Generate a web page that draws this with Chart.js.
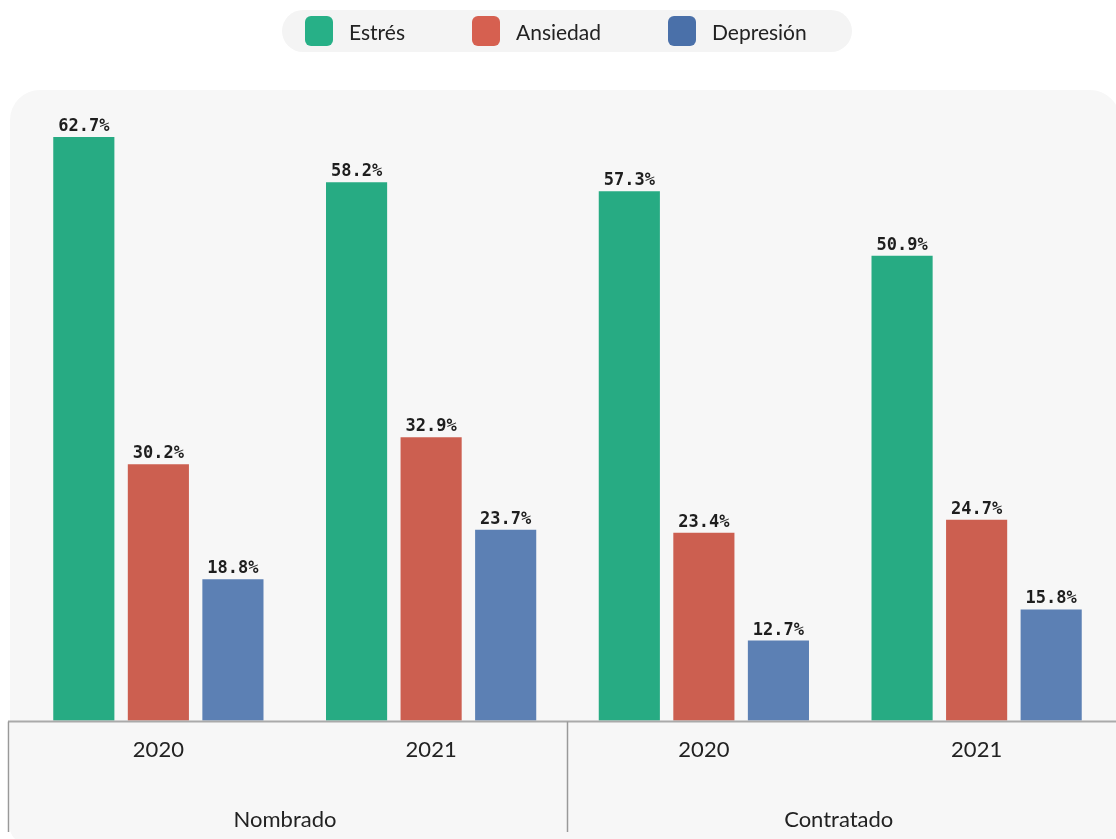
<!DOCTYPE html>
<html>
<head>
<meta charset="utf-8">
<script src="https://cdn.jsdelivr.net/npm/chart.js@4/dist/chart.umd.min.js"></script>
<style>
  html, body { margin: 0; padding: 0; background: #fff; }
  #wrap { position: relative; width: 1116px; height: 839px; overflow: hidden; }
  #legend {
    position: absolute; left: 282px; top: 10px; width: 570px; height: 42px;
    background: #f4f4f4; border-radius: 21px;
    font-family: Lato, "Noto Sans", sans-serif; font-size: 21px; color: #222;
  }
  #legend .item { position: absolute; top: 6px; display: flex; align-items: center; height: 30px; }
  #legend .box { width: 28px; height: 30px; border-radius: 6px; margin-right: 16px; }
</style>
</head>
<body>
<div id="wrap">
  <canvas id="chart" width="1116" height="839"></canvas>
  <div id="legend"></div>
</div>
<script>
const years = ['2020', '2021', '2020', '2021'];
const groups = ['Nombrado', 'Contratado'];
const seriesNames = ['Estrés', 'Ansiedad', 'Depresión'];
const estres = [62.7, 58.2, 57.3, 50.9];
const ansiedad = [30.2, 32.9, 23.4, 24.7];
const depresion = [18.8, 23.7, 12.7, 15.8];
const barColors = ['#27ab83', '#cc5f50', '#5c80b4'];
const legendColors = ['#27b087', '#d66050', '#4a70a9'];

const panelBg = {
  id: 'panelBg',
  beforeDraw(chart) {
    const ctx = chart.ctx;
    ctx.save();
    ctx.fillStyle = '#f7f7f7';
    ctx.beginPath();
    ctx.roundRect(10, 90, 1110, 752, [30, 30, 14, 14]);
    ctx.fill();
    ctx.restore();
  }
};

const valueLabels = {
  id: 'valueLabels',
  afterDatasetsDraw(chart) {
    const ctx = chart.ctx;
    ctx.save();
    ctx.font = 'bold 17px "DejaVu Sans Mono", monospace';
    ctx.fillStyle = '#1e1e1e';
    ctx.textAlign = 'center';
    ctx.textBaseline = 'alphabetic';
    chart.data.datasets.forEach((ds, i) => {
      chart.getDatasetMeta(i).data.forEach((bar, j) => {
        ctx.fillText(ds.data[j].toFixed(1) + '%', bar.x, bar.y - 6);
      });
    });
    ctx.restore();
  }
};

const groupAxis = {
  id: 'groupAxis',
  afterDraw(chart) {
    const ctx = chart.ctx;
    const x = chart.scales.x;
    const base = chart.chartArea.bottom;
    ctx.save();
    // baseline
    ctx.strokeStyle = '#aaaaaa';
    ctx.lineWidth = 2;
    ctx.beginPath();
    ctx.moveTo(8, base + 1);
    ctx.lineTo(1116, base + 1);
    ctx.stroke();
    // dividers
    const per = years.length / groups.length;
    const edges = [8.5];
    for (let g = 1; g < groups.length; g++) {
      edges.push((x.getPixelForValue(g * per - 1) + x.getPixelForValue(g * per)) / 2);
    }
    ctx.strokeStyle = '#999999';
    ctx.lineWidth = 1.5;
    edges.forEach(e => {
      ctx.beginPath();
      ctx.moveTo(e, base + 1);
      ctx.lineTo(e, 832);
      ctx.stroke();
    });
    edges.push(1116);
    ctx.font = '22px Lato, "Noto Sans", sans-serif';
    ctx.fillStyle = '#222';
    ctx.textAlign = 'center';
    ctx.textBaseline = 'middle';
    groups.forEach((g, i) => {
      ctx.fillText(g, (edges[i] + edges[i + 1]) / 2 - 3, 820);
    });
    ctx.restore();
  }
};

const chart = new Chart(document.getElementById('chart'), {
  type: 'bar',
  data: {
    labels: years,
    datasets: [estres, ansiedad, depresion].map((d, i) => ({
      label: seriesNames[i],
      data: d,
      backgroundColor: barColors[i],
      barPercentage: 0.82,
      categoryPercentage: 0.82
    }))
  },
  options: {
    responsive: false,
    animation: false,
    layout: { padding: { left: 22, right: 3, top: 100, bottom: 60 } },
    scales: {
      x: {
        grid: { display: false, drawTicks: false },
        border: { display: false },
        ticks: {
          padding: 16,
          color: '#222',
          font: { family: 'Lato, "Noto Sans", sans-serif', size: 22 }
        }
      },
      y: {
        display: false,
        min: 4.76,
        max: 66.37
      }
    },
    plugins: {
      legend: { display: false },
      tooltip: { enabled: false }
    }
  },
  plugins: [panelBg, valueLabels, groupAxis]
});

// html legend
const legendEl = document.getElementById('legend');
const legendLefts = [23, 190, 386];
seriesNames.forEach((name, i) => {
  const item = document.createElement('div');
  item.className = 'item';
  item.style.left = legendLefts[i] + 'px';
  const box = document.createElement('div');
  box.className = 'box';
  box.style.background = legendColors[i];
  const txt = document.createElement('span');
  txt.textContent = name;
  item.appendChild(box);
  item.appendChild(txt);
  legendEl.appendChild(item);
});
</script>
</body>
</html>
